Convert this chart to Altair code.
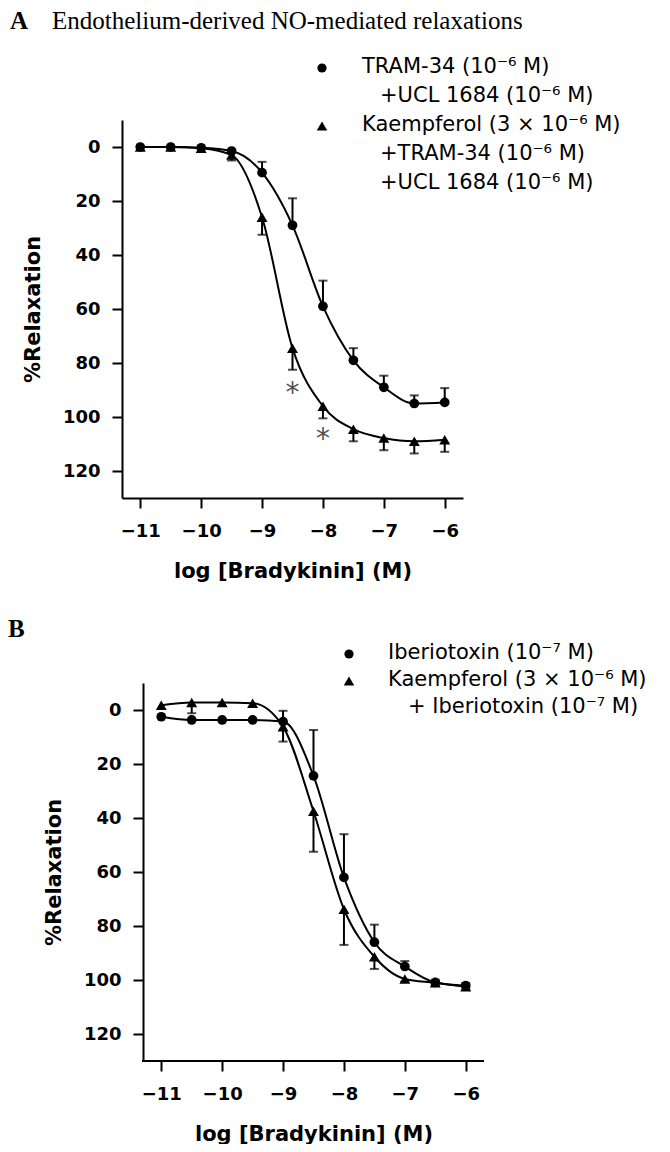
import altair as alt
import pandas as pd

# ---------------- data ----------------
log_conc = [-11, -10.5, -10, -9.5, -9, -8.5, -8, -7.5, -7, -6.5, -6]

# Panel A
a_tram_mean = [0, 0, 0.3, 1.5, 9.5, 29, 59, 79, 89, 95, 94.6]
a_tram_sem = [0, 0, 0, 0, 4, 10, 9.5, 4.5, 4.3, 3, 5.3]
a_kaemp_mean = [0, 0, 0.5, 3, 26, 74.5, 96, 104.5, 107.8, 109, 108.4]
a_kaemp_sem = [0, 0, 0, 2, 6.5, 8, 4.5, 4.5, 4.5, 4.5, 4.5]
a_star_x = [-8.5, -8]
a_star_y = [89, 106]

# Panel B
b_iber_mean = [2.5, 3.7, 3.7, 3.7, 4.3, 24.4, 62, 86, 95, 100.9, 102.1]
b_iber_sem = [0, 0, 0, 0, 4, 17, 16, 6.5, 2, 1, 1]
b_kaemp_mean = [-1.8, -2.8, -2.8, -2.5, 6.2, 37.5, 73.8, 91.4, 99.6, 101, 102.5]
b_kaemp_sem = [0, 4, 0, 0, 5.5, 15, 13.2, 4.5, 1, 1, 1]

x_ticks = [-11, -10, -9, -8, -7, -6]
y_ticks = [0, 20, 40, 60, 80, 100, 120]
x_domain = [-11.3, -5.7]
y_domain = [-10, 130]

legend_a = [
    ("circle", "TRAM-34 (10\u207B\u2076 M)", ["+UCL 1684 (10\u207B\u2076 M)"]),
    ("triangle-up", "Kaempferol (3 \u00D7 10\u207B\u2076 M)",
     ["+TRAM-34 (10\u207B\u2076 M)", "+UCL 1684 (10\u207B\u2076 M)"]),
]
legend_b = [
    ("circle", "Iberiotoxin (10\u207B\u2077 M)", []),
    ("triangle-up", "Kaempferol (3 \u00D7 10\u207B\u2076 M)",
     ["+ Iberiotoxin (10\u207B\u2077 M)"]),
]

SANS = "DejaVu Sans"
SERIF = "Liberation Serif"
PW, PH = 341, 378
SHIFT_B = 21  # panel B sits further right than panel A in the figure
SYM_SIZE = {"circle": 95, "triangle-up": 120}


def series_df(means, sems, direction):
    df = pd.DataFrame({"x": log_conc, "y": means, "sem": sems})
    df["y_end"] = df["y"] + direction * df["sem"]
    return df


def encodings(shift):
    px_per_unit = PW / (x_domain[1] - x_domain[0])
    x_enc = alt.X(
        "x:Q",
        scale=alt.Scale(domain=[x_domain[0] - shift / px_per_unit, x_domain[1]],
                        nice=False, zero=False),
        axis=alt.Axis(values=x_ticks, title="log [Bradykinin] (M)", format="d",
                      labelExpr="replace(datum.label, '-', '\u2212')",
                      domain=(shift == 0), titleX=shift + PW / 2),
    )
    y_enc = alt.Y(
        "y:Q",
        scale=alt.Scale(domain=y_domain, reverse=True, nice=False, zero=False),
        axis=alt.Axis(values=y_ticks, title="%Relaxation", offset=-shift),
    )
    return x_enc, y_enc


def series_layers(df, shape, shift):
    x_enc, y_enc = encodings(shift)
    base = alt.Chart(df)
    line = base.mark_line(color="black", strokeWidth=2, interpolate="monotone").encode(
        x=x_enc, y=y_enc
    )
    err_df = df[df["sem"] > 0]
    eb = alt.Chart(err_df)
    rule = eb.mark_rule(color="black", strokeWidth=2).encode(
        x=x_enc, y=y_enc, y2="y_end:Q"
    )
    cap = eb.mark_tick(color="black", orient="horizontal", size=9, thickness=2).encode(
        x=x_enc, y=alt.Y("y_end:Q")
    )
    pts = base.mark_point(
        shape=shape, filled=True, color="black", opacity=1, size=SYM_SIZE[shape]
    ).encode(x=x_enc, y=y_enc)
    return [line, rule, cap, pts]


def text_layer(txt, px, py, font=SANS, size=21, weight="normal", color="black",
               baseline="middle"):
    return alt.Chart(pd.DataFrame({"t": [txt]})).mark_text(
        align="left", baseline=baseline, font=font, fontSize=size,
        fontWeight=weight, color=color,
    ).encode(x=alt.value(px), y=alt.value(py), text="t:N")


def legend_layers(items, sym_x, text_x, indent_x, first_y, line_gap):
    layers = []
    y = first_y
    for shape, first, rest in items:
        layers.append(
            alt.Chart(pd.DataFrame({"s": [shape]})).mark_point(
                shape=shape, filled=True, color="black", opacity=1,
                size=SYM_SIZE[shape] - 10
            ).encode(x=alt.value(sym_x), y=alt.value(y + 1))
        )
        layers.append(text_layer(first, text_x, y))
        y += line_gap
        for r in rest:
            layers.append(text_layer(r, indent_x, y))
            y += line_gap
    return layers


# ---------------- panel A ----------------
a_layers = []
a_layers += series_layers(series_df(a_tram_mean, a_tram_sem, -1), "circle", 0)
a_layers += series_layers(series_df(a_kaemp_mean, a_kaemp_sem, 1), "triangle-up", 0)
x_enc, y_enc = encodings(0)
a_layers.append(
    alt.Chart(pd.DataFrame({"x": a_star_x, "y": a_star_y})).mark_text(
        text="*", font=SANS, fontSize=28, color="#505050", dy=7
    ).encode(x=x_enc, y=y_enc)
)
a_layers += legend_layers(legend_a, 200, 240, 258, -53, 29)
a_layers.append(text_layer("A", -112, -91, font=SERIF, size=25, weight="bold",
                           baseline="alphabetic"))
a_layers.append(text_layer("Endothelium-derived NO-mediated relaxations", -70, -91,
                           font=SERIF, size=25, baseline="alphabetic"))
panel_a = alt.layer(*a_layers).properties(width=PW, height=PH)

# ---------------- panel B ----------------
S = SHIFT_B
b_layers = []
b_layers += series_layers(series_df(b_iber_mean, b_iber_sem, -1), "circle", S)
b_layers += series_layers(series_df(b_kaemp_mean, b_kaemp_sem, 1), "triangle-up", S)
# x-axis baseline of panel B (starts at its own y-axis)
b_layers.append(
    alt.Chart(pd.DataFrame({"d": [0]})).mark_rule(color="black", strokeWidth=2).encode(
        x=alt.value(S - 1), x2=alt.value(S + PW), y=alt.value(PH)
    )
)
b_layers += legend_layers(legend_b, 206 + S, 245 + S, 265 + S, -30, 27)
b_layers.append(text_layer("B", -114, -46, font=SERIF, size=25, weight="bold",
                           baseline="alphabetic"))
panel_b = alt.layer(*b_layers).properties(width=PW + S, height=PH)

chart = (
    alt.vconcat(panel_a, panel_b, spacing=36)
    .properties(padding={"left": 0, "top": 1, "right": 0, "bottom": 0})
    .configure_view(stroke=None)
    .configure_axis(
        grid=False,
        domainColor="black",
        domainWidth=2,
        tickColor="black",
        tickWidth=2,
        tickSize=10,
        labelFont=SANS,
        labelFontSize=18,
        labelFontWeight="bold",
        labelColor="black",
        titleFont=SANS,
        titleFontSize=21,
        titleFontWeight="bold",
        titleColor="black",
    )
    .configure_axisX(labelPadding=14, titlePadding=20)
    .configure_axisY(labelPadding=12, titlePadding=19)
)

chart.save("out.html", embed_options={"renderer": "svg", "actions": False})
